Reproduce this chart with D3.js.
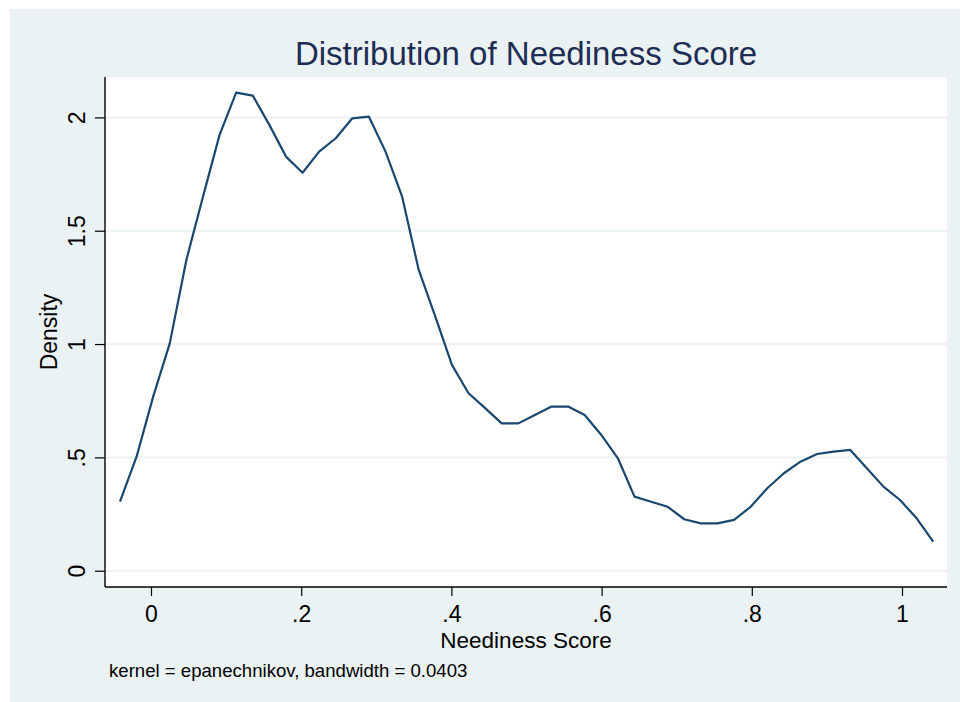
<!DOCTYPE html>
<html>
<head>
<meta charset="utf-8">
<script src="https://cdn.jsdelivr.net/npm/d3@7"></script>
<style>
  html, body { margin: 0; padding: 0; background: #fff; }
  svg { display: block; font-family: "Liberation Sans", Arial, sans-serif; }
</style>
</head>
<body>
<div id="chart"></div>
<script>
// kdensity evaluation points (x) and estimated density (y)
const scoreX = [-0.0413, -0.0192, 0.0029, 0.0250, 0.0471, 0.0692, 0.0913, 0.1134, 0.1355, 0.1576,
    0.1797, 0.2018, 0.2239, 0.2460, 0.2681, 0.2902, 0.3123, 0.3344, 0.3565, 0.3786,
    0.4007, 0.4228, 0.4449, 0.4670, 0.4891, 0.5112, 0.5333, 0.5554, 0.5775, 0.5996,
    0.6217, 0.6438, 0.6659, 0.6880, 0.7101, 0.7322, 0.7543, 0.7764, 0.7985, 0.8206,
    0.8427, 0.8648, 0.8869, 0.9090, 0.9311, 0.9532, 0.9753, 0.9974, 1.0195, 1.0416];
const density = [0.305, 0.503, 0.768, 1.003, 1.371, 1.650, 1.923, 2.109, 2.096, 1.967,
    1.827, 1.756, 1.849, 1.908, 1.996, 2.003, 1.849, 1.650, 1.327, 1.121,
    0.908, 0.783, 0.717, 0.650, 0.650, 0.687, 0.724, 0.724, 0.687, 0.599,
    0.496, 0.327, 0.304, 0.282, 0.227, 0.209, 0.209, 0.224, 0.282, 0.364,
    0.430, 0.481, 0.515, 0.525, 0.533, 0.452, 0.371, 0.312, 0.231, 0.128];
const xTicks = [0, 0.2, 0.4, 0.6, 0.8, 1];
const yTicks = [0, 0.5, 1, 1.5, 2];

const TITLE = "Distribution of Neediness Score",
    X_TITLE = "Neediness Score",
    Y_TITLE = "Density",
    NOTE = "kernel = epanechnikov, bandwidth = 0.0403";

const WIDTH = 960,
    HEIGHT = 702,
    PLOT_LEFT = 105,
    PLOT_RIGHT = 947,
    PLOT_TOP = 77,
    PLOT_BOTTOM = 587,
    COLOR_BG = '#eaf2f3',
    COLOR_GRID = '#eaf2f3',
    COLOR_LINE = '#1a476f',
    COLOR_TITLE = '#1e2d53',
    COLOR_TEXT = '#000';

const svg = d3.select("#chart")
    .append("svg")
    .attr("width", WIDTH)
    .attr("height", HEIGHT);

// outer graph region
svg.append("rect")
    .attr("x", 10).attr("y", 9)
    .attr("width", WIDTH - 10).attr("height", HEIGHT - 9)
    .attr("fill", COLOR_BG);

// plot region
svg.append("rect")
    .attr("x", PLOT_LEFT).attr("y", PLOT_TOP)
    .attr("width", PLOT_RIGHT - PLOT_LEFT).attr("height", PLOT_BOTTOM - PLOT_TOP)
    .attr("fill", "#fff");

const x = d3.scaleLinear().domain([0, 1]).range([151, 902]);
const y = d3.scaleLinear().domain([0, 2]).range([570.7, 117.4]);

const fmt = d => d === 0 ? "0" : d3.format("~g")(d).replace(/^0\./, ".");

// grid lines
svg.append("g")
    .selectAll("line")
    .data(yTicks)
    .join("line")
    .attr("x1", PLOT_LEFT + 1).attr("x2", PLOT_RIGHT)
    .attr("y1", d => y(d)).attr("y2", d => y(d))
    .attr("stroke", COLOR_GRID)
    .attr("stroke-width", 2);

// density curve
svg.append("path")
    .datum(d3.zip(scoreX, density))
    .attr("fill", "none")
    .attr("stroke", COLOR_LINE)
    .attr("stroke-width", 2.2)
    .attr("stroke-linejoin", "round")
    .attr("d", d3.line().x(d => x(d[0])).y(d => y(d[1])));

// y axis
const yAxis = svg.append("g")
    .attr("transform", `translate(${PLOT_LEFT},0)`)
    .call(d3.axisLeft(y).tickValues(yTicks).tickFormat(fmt).tickSize(10).tickSizeOuter(0));
yAxis.select(".domain").attr("d", `M0,${PLOT_TOP}V${PLOT_BOTTOM}`);
yAxis.selectAll(".tick text")
    .attr("x", null).attr("dy", null)
    .attr("transform", "translate(-20,0) rotate(-90)")
    .attr("text-anchor", "middle")
    .attr("dy", "0")
    .attr("y", 0);

// x axis
const xAxis = svg.append("g")
    .attr("transform", `translate(0,${PLOT_BOTTOM})`)
    .call(d3.axisBottom(x).tickValues(xTicks).tickFormat(fmt).tickSize(9).tickSizeOuter(0));
xAxis.select(".domain").attr("d", `M${PLOT_LEFT},0H${PLOT_RIGHT}`);
xAxis.selectAll(".tick text")
    .attr("dy", null)
    .attr("y", 35);

[yAxis, xAxis].forEach(a => {
    a.attr("font-family", null).attr("font-size", 23);
    a.select(".domain").attr("stroke", COLOR_TEXT).attr("stroke-width", 1.4);
    a.selectAll(".tick line").attr("stroke", COLOR_TEXT).attr("stroke-width", 1.2);
    a.selectAll(".tick text").attr("fill", COLOR_TEXT);
});

// titles
svg.append("text")
    .attr("x", (PLOT_LEFT + PLOT_RIGHT) / 2).attr("y", 65)
    .attr("text-anchor", "middle")
    .attr("font-size", 33)
    .attr("fill", COLOR_TITLE)
    .text(TITLE);

svg.append("text")
    .attr("x", (PLOT_LEFT + PLOT_RIGHT) / 2).attr("y", 648)
    .attr("text-anchor", "middle")
    .attr("font-size", 22.5)
    .attr("fill", COLOR_TEXT)
    .text(X_TITLE);

svg.append("text")
    .attr("transform", `translate(57,${(PLOT_TOP + PLOT_BOTTOM) / 2}) rotate(-90)`)
    .attr("text-anchor", "middle")
    .attr("font-size", 23)
    .attr("fill", COLOR_TEXT)
    .text(Y_TITLE);

svg.append("text")
    .attr("x", 109).attr("y", 677)
    .attr("font-size", 18.6)
    .attr("fill", COLOR_TEXT)
    .text(NOTE);
</script>
</body>
</html>
